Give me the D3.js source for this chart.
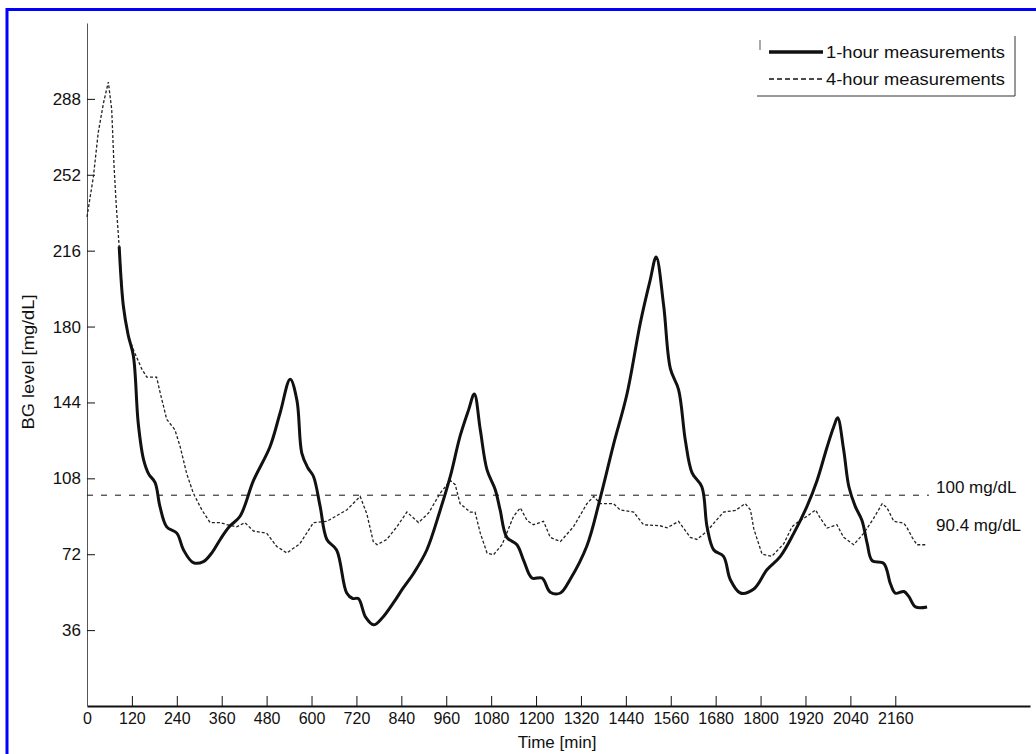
<!DOCTYPE html>
<html>
<head>
<meta charset="utf-8">
<script src="https://cdn.jsdelivr.net/npm/d3@7"></script>
<style>
    body { margin: 0; background: #fff; }
    svg { display: block; font-family: "Liberation Sans", Arial, sans-serif; }
</style>
</head>
<body>
<div id="chart"></div>
<script>
// 1-hour measurement run (time in min, BG in mg/dL)
const hourTimes = [86, 97, 110, 124, 137, 151, 165, 182, 195, 213, 240, 258,
    284, 311, 335, 356, 380, 409, 445, 489, 516, 543, 561, 574, 590, 605, 623, 641, 667, 694, 710, 725,
    745, 766, 790, 819, 845, 873, 908, 944, 971, 997, 1020, 1035, 1051, 1069, 1091, 1104, 1122, 1149, 1167, 1189,
    1216, 1238, 1265, 1291, 1336, 1372, 1407, 1443, 1479, 1505, 1521, 1541, 1559, 1581, 1599, 1617, 1643, 1657, 1675, 1701,
    1719, 1746, 1782, 1817, 1853, 1889, 1924, 1951, 1978, 1996, 2006, 2022, 2036, 2053, 2071, 2085, 2098, 2129, 2147, 2160,
    2183, 2196, 2214, 2245];
const hourValues = [218, 190, 176, 166, 134, 117, 110, 106, 94.6, 85, 82, 74,
    68, 68.5, 73, 79, 85, 90, 107, 123, 139, 155, 145, 120, 113, 109, 94.7, 79, 74, 53.6, 51, 51,
    42, 38.5, 42, 49, 56, 63, 74, 93, 109, 128, 140.6, 148, 131, 112, 102.6, 93, 80, 76.5, 69, 60.7,
    60.7, 54, 53.6, 60, 76, 99, 124, 148, 182, 202, 213, 190, 160, 150, 126, 110.6, 104, 85, 74, 71,
    60, 53.6, 55.5, 64.6, 71, 82, 94.7, 107, 123, 132.7, 136.7, 121.6, 104, 94.7, 88, 77, 69, 67.7, 58, 53.5,
    54.3, 52, 47, 47];

// 4-hour measurement run
const fourHourTimes = [0, 17, 30, 44, 57, 66, 72, 78, 86, 97, 110, 124, 146, 160, 186, 195, 213, 235, 249, 266,
    284, 307, 329, 356, 374, 400, 422, 445, 480, 507, 534, 569, 605, 641, 694, 730, 748, 765, 775, 801,
    828, 855, 886, 913, 944, 971, 984, 997, 1024, 1037, 1051, 1069, 1086, 1109, 1140, 1158, 1176, 1193, 1220, 1238,
    1265, 1300, 1336, 1354, 1372, 1407, 1425, 1461, 1487, 1532, 1550, 1581, 1612, 1630, 1657, 1701, 1733, 1759, 1773, 1782,
    1804, 1830, 1862, 1884, 1902, 1924, 1947, 1960, 1978, 2004, 2022, 2049, 2076, 2102, 2125, 2138, 2156, 2183, 2192, 2205,
    2218, 2245];
const fourHourValues = [232, 251, 272, 286, 296, 283, 257, 238, 218, 190, 176, 169, 160, 156, 156, 149, 136, 131, 123, 110.5,
    101, 93, 87, 87, 86, 85, 87, 83, 82, 75.7, 72.6, 77, 87, 87.6, 93, 99.4, 91, 78, 76.5, 79,
    85, 92, 87, 91.6, 101, 107, 105, 96, 92, 92, 82, 72.6, 71.7, 76.5, 90, 94, 88, 86, 87.6, 80,
    78, 85, 96, 99.4, 96, 96, 93, 92, 86, 85.5, 84.5, 87.6, 80, 79, 83, 92, 92.8, 96, 93, 84,
    72, 71, 77, 85, 87.6, 90, 93, 89, 84.4, 86, 80, 76.5, 82, 89, 96, 94, 87.6, 86.7, 84.4, 80,
    76.5, 76.5];

const xTicks = d3.range(0, 2161, 120);
const yTicks = [36, 72, 108, 144, 180, 216, 252, 288];
const refLevel = 100;
const refLabels = ['100 mg/dL', '90.4 mg/dL'];
const seriesNames = ['1-hour measurements', '4-hour measurements'];

const width = 1036;
const height = 754;
const ink = '#111';

const svg = d3.select('#chart').append('svg').attr('width', width).attr('height', height);

// scanned figure frame
svg.append('rect')
    .attr('x', 7)
    .attr('y', 9.5)
    .attr('width', width + 20)
    .attr('height', height + 20)
    .attr('fill', 'none')
    .attr('stroke', '#0000ff')
    .attr('stroke-width', 3);

const x = d3.scaleLinear().domain([0, 2520]).range([87, 1030]);
const y = d3.scaleLinear().domain([0, 324]).range([706, 23]);

const xAxis = svg.append('g')
    .attr('transform', `translate(0,${y(0)})`)
    .call(d3.axisBottom(x).tickValues(xTicks).tickFormat(d3.format('d'))
        .tickSizeInner(-10).tickSizeOuter(0).tickPadding(7));
xAxis.select('.domain').attr('stroke', ink).attr('stroke-width', 2);
xAxis.selectAll('.tick line').attr('stroke', ink);
xAxis.selectAll('text').attr('fill', ink).style('font-size', '16px');

const yAxis = svg.append('g')
    .attr('transform', `translate(${x(0)},0)`)
    .call(d3.axisLeft(y).tickValues(yTicks).tickSizeInner(-8).tickSizeOuter(0).tickPadding(6));
yAxis.select('.domain').attr('stroke', '#555').attr('stroke-width', 1);
yAxis.selectAll('.tick line').attr('stroke', ink);
yAxis.selectAll('text').attr('fill', ink).style('font-size', '17px');

svg.append('text')
    .attr('x', 557)
    .attr('y', 748)
    .attr('text-anchor', 'middle')
    .attr('fill', ink)
    .style('font-size', '17px')
    .text('Time [min]');

svg.append('text')
    .attr('transform', `translate(34,362) rotate(-90)`)
    .attr('text-anchor', 'middle')
    .attr('textLength', 135)
    .attr('lengthAdjust', 'spacingAndGlyphs')
    .attr('fill', ink)
    .style('font-size', '16px')
    .text('BG level [mg/dL]');

// reference level
svg.append('line')
    .attr('x1', x(0))
    .attr('x2', x(2250))
    .attr('y1', y(refLevel))
    .attr('y2', y(refLevel))
    .attr('stroke', ink)
    .attr('stroke-width', 1)
    .attr('stroke-dasharray', '6,8');

svg.selectAll('.ref-label')
    .data(refLabels)
    .join('text')
    .attr('class', 'ref-label')
    .attr('x', 936)
    .attr('y', (d, i) => 493 + i * 38)
    .attr('fill', ink)
    .style('font-size', '17px')
    .text((d) => d);

const line = d3.line()
    .x((d) => x(d[0]))
    .y((d) => y(d[1]));

const fourHour = fourHourTimes.map((t, i) => [t, fourHourValues[i]]);
const hour = hourTimes.map((t, i) => [t, hourValues[i]]);

svg.append('path')
    .datum(fourHour)
    .attr('d', line)
    .attr('fill', 'none')
    .attr('stroke', '#222')
    .attr('stroke-width', 1.3)
    .attr('stroke-dasharray', '3,2');

svg.append('path')
    .datum(hour)
    .attr('d', line.curve(d3.curveCatmullRom.alpha(0.5)))
    .attr('fill', 'none')
    .attr('stroke', ink)
    .attr('stroke-width', 3)
    .attr('stroke-linejoin', 'round');

// legend
const legend = svg.append('g');
legend.append('path')
    .attr('d', 'M757,96H1015V36')
    .attr('fill', 'none')
    .attr('stroke', '#333')
    .attr('stroke-width', 1);
legend.append('line')
    .attr('x1', 760).attr('x2', 760)
    .attr('y1', 40).attr('y2', 50)
    .attr('stroke', '#555');

const entries = legend.selectAll('g')
    .data(seriesNames)
    .join('g')
    .attr('transform', (d, i) => `translate(0,${52 + i * 27})`);
entries.append('line')
    .attr('x1', 769)
    .attr('x2', 823)
    .attr('stroke', ink)
    .attr('stroke-width', (d, i) => (i === 0 ? 3.5 : 1.3))
    .attr('stroke-dasharray', (d, i) => (i === 0 ? null : '5,3'));
entries.append('text')
    .attr('x', 826)
    .attr('dy', '0.35em')
    .attr('fill', ink)
    .style('font-size', '17px')
    .attr('textLength', 179)
    .attr('lengthAdjust', 'spacingAndGlyphs')
    .text((d) => d);
</script>
</body>
</html>
